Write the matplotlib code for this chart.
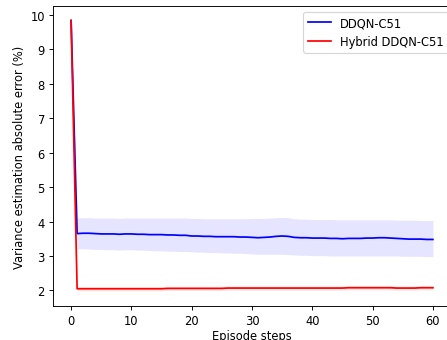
import numpy as np
import matplotlib
matplotlib.use('Agg')
from matplotlib import pyplot as plt

steps = list(range(61))

# DDQN-C51 mean / upper / lower
ddqn_mean = [9.83, 3.65, 3.66, 3.66, 3.65, 3.64, 3.64, 3.64, 3.63, 3.64, 3.64,
             3.63, 3.63, 3.62, 3.62, 3.62, 3.61, 3.61, 3.60, 3.60, 3.58,
             3.58, 3.57, 3.57, 3.56, 3.56, 3.56, 3.56, 3.55, 3.55, 3.54,
             3.53, 3.54, 3.55, 3.57, 3.58, 3.57, 3.54, 3.53, 3.53, 3.52,
             3.52, 3.52, 3.51, 3.51, 3.50, 3.51, 3.51, 3.51, 3.52, 3.52,
             3.53, 3.53, 3.52, 3.51, 3.50, 3.49, 3.49, 3.49, 3.48, 3.48]
ddqn_upper = [9.85, 4.10, 4.11, 4.11, 4.10, 4.10, 4.10, 4.10, 4.09, 4.10, 4.10,
              4.10, 4.10, 4.10, 4.10, 4.10, 4.10, 4.10, 4.10, 4.10, 4.09,
              4.09, 4.08, 4.08, 4.08, 4.08, 4.08, 4.08, 4.08, 4.08, 4.09,
              4.09, 4.09, 4.10, 4.11, 4.12, 4.11, 4.08, 4.07, 4.07, 4.06,
              4.06, 4.06, 4.06, 4.05, 4.05, 4.05, 4.05, 4.05, 4.05, 4.05,
              4.05, 4.05, 4.05, 4.04, 4.04, 4.04, 4.04, 4.03, 4.03, 4.03]
ddqn_lower = [9.81, 3.21, 3.21, 3.20, 3.19, 3.19, 3.18, 3.18, 3.17, 3.18, 3.18,
              3.17, 3.17, 3.16, 3.15, 3.15, 3.14, 3.14, 3.13, 3.13, 3.12,
              3.11, 3.11, 3.10, 3.10, 3.09, 3.09, 3.08, 3.08, 3.07, 3.06,
              3.05, 3.05, 3.05, 3.05, 3.05, 3.04, 3.03, 3.02, 3.02, 3.01,
              3.01, 3.01, 3.00, 3.00, 3.00, 3.00, 3.00, 3.00, 3.00, 3.00,
              3.00, 3.00, 3.00, 3.00, 2.99, 2.99, 2.99, 2.99, 2.98, 2.98]

# Hybrid DDQN-C51 mean and band half-width
hybrid_mean = [9.83, 2.05, 2.05, 2.05, 2.05, 2.05, 2.05, 2.05, 2.05, 2.05, 2.05,
               2.05, 2.05, 2.05, 2.05, 2.05, 2.06, 2.06, 2.06, 2.06, 2.06,
               2.06, 2.06, 2.06, 2.06, 2.06, 2.07, 2.07, 2.07, 2.07, 2.07,
               2.07, 2.07, 2.07, 2.07, 2.07, 2.07, 2.07, 2.07, 2.07, 2.07,
               2.07, 2.07, 2.07, 2.07, 2.07, 2.08, 2.08, 2.08, 2.08, 2.08,
               2.08, 2.08, 2.08, 2.07, 2.07, 2.07, 2.07, 2.08, 2.08, 2.08]
hybrid_spread = 0.06

DPI = 83
fig = plt.figure(figsize=(447 / DPI, 341 / DPI), dpi=DPI)
# axes runs a bit past the right edge, like the cropped original
ax = fig.add_axes([53 / 447, 34 / 341, 398 / 447, 300 / 341])

ax.plot(steps, ddqn_mean, color='blue', lw=1.5, label='DDQN-C51')
ax.fill_between(steps, ddqn_lower, ddqn_upper, color='blue', alpha=0.1, lw=0)
hm = np.array(hybrid_mean)
ax.plot(steps, hybrid_mean, color='red', lw=1.5, label='Hybrid DDQN-C51')
ax.fill_between(steps, hm - hybrid_spread, hm + hybrid_spread, color='red', alpha=0.1, lw=0)

ax.set_xlim(-3, 63)
ax.set_ylim(1.55, 10.25)
ax.set_xticks([0, 10, 20, 30, 40, 50, 60])
ax.set_xlabel('Episode steps', labelpad=2)
ax.set_ylabel('Variance estimation absolute error (%)')
ax.legend(loc='upper right', bbox_to_anchor=(1.008, 1.0))

fig.savefig('out.png', dpi=DPI)
